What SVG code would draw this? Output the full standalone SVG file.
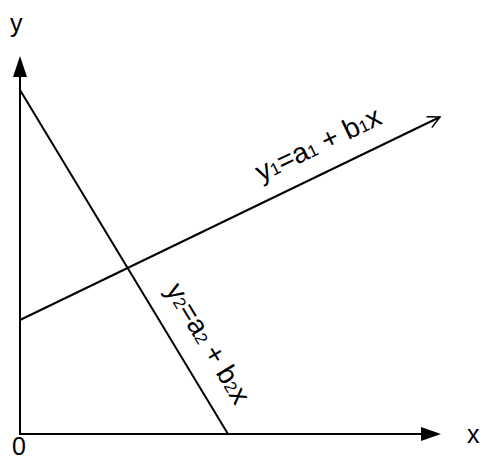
<svg xmlns="http://www.w3.org/2000/svg" width="484" height="459" viewBox="0 0 484 459">
<style>
.ln{stroke:#000;stroke-width:2;fill:none}
.t{font-family:"Liberation Sans",Arial,sans-serif;font-size:25px;fill:#000}
.l{font-size:28px}
.s{font-size:17px}
</style>
<defs>
<marker id="open" markerWidth="14" markerHeight="14" refX="13" refY="7" orient="auto" markerUnits="userSpaceOnUse" viewBox="0 0 14 14">
<path d="M1,1 L13,7 L1,13" fill="none" stroke="#000" stroke-width="1.5"/>
</marker>
</defs>
<rect width="484" height="459" fill="#fff"/>
<g id="connectors">
<line class="ln" x1="20" y1="435" x2="20" y2="60"/>
<path d="M20,56 L13,77 L27,77 Z" fill="#000"/>
<line class="ln" x1="20" y1="434" x2="430" y2="434"/>
<path d="M441,434 L421,427 L421,441 Z" fill="#000"/>
<line class="ln" x1="20" y1="90" x2="228" y2="434"/>
<line class="ln" x1="20" y1="320" x2="440" y2="117" marker-end="url(#open)"/>
</g>
<g id="label-y"><text class="t" x="10" y="32">y</text></g>
<g id="label-x"><text class="t" x="467" y="443">x</text></g>
<g id="label-0"><text class="t" x="12" y="455">0</text></g>
<g id="label-line1"><text class="t l" transform="translate(261,182) rotate(-25.7)">y<tspan class="s">1</tspan>=a<tspan class="s">1</tspan> + b<tspan class="s">1</tspan>x</text></g>
<g id="label-line2"><text class="t l" transform="translate(165,290) rotate(58.8)">y<tspan class="s">2</tspan>=a<tspan class="s">2</tspan> + b<tspan class="s">2</tspan>x</text></g>
</svg>
